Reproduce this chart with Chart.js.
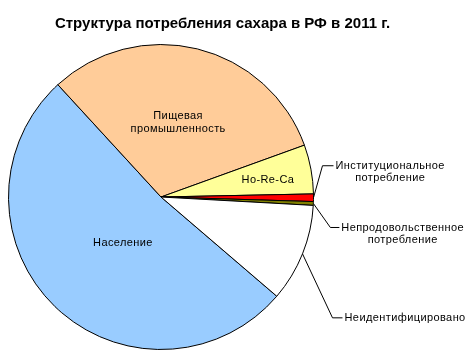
<!DOCTYPE html>
<html>
<head>
<meta charset="utf-8">
<script src="https://cdn.jsdelivr.net/npm/chart.js@4.4.1/dist/chart.umd.min.js"></script>
<style>
  html, body { margin: 0; padding: 0; background: #ffffff; }
  #wrap { width: 471px; height: 358px; }
</style>
</head>
<body>
<div id="wrap"><canvas id="c" width="471" height="358"></canvas></div>
<script>
// ---- data ----
const chartTitle = 'Структура потребления сахара в РФ в 2011 г.';
const categories = ['Население', 'Пищевая промышленность', 'Ho-Re-Ca', 'Институциональное потребление', 'Непродовольственное потребление', 'Неидентифицировано'];
const shares = [51.9, 31.3, 5.2, 0.8, 0.4, 10.4];

// ---- styles ----
const sliceColors = ['#99CCFF', '#FFCC99', '#FFFF99', '#FF0000', '#808000', '#FFFFFF'];
const FONT = '"Liberation Sans", Arial, sans-serif';

// label placement: inside (angle offset deg from slice middle, radius fraction) or outside leader (elbow offset, run)
const labelPlacement = [
  { inside: true, dAng: -4.3, rf: 0.39 },
  { inside: true, dAng: -0.8, rf: 0.50 },
  { inside: true, dAng: 1.5, rf: 0.71 },
  { inside: false, ex: 9, ey: -32, run: 11 },
  { inside: false, ex: 17, ey: 24, run: 9 },
  { inside: false, ex: 30, ey: 64, run: 10 }
];

const labelPlugin = {
  id: 'sliceLabels',
  afterDatasetsDraw(chart) {
    const ctx = chart.ctx;
    const meta = chart.getDatasetMeta(0);
    ctx.save();
    ctx.font = '11px ' + FONT;
    try { ctx.letterSpacing = '0.4px'; } catch (e) {}
    ctx.fillStyle = '#000000';
    ctx.strokeStyle = '#000000';
    ctx.lineWidth = 1;
    const lh = 12.7;
    meta.data.forEach((arc, i) => {
      const p = arc.getProps(['x', 'y', 'startAngle', 'endAngle', 'outerRadius'], true);
      const mid = (p.startAngle + p.endAngle) / 2;
      const lines = categories[i].split(' ');
      const pl = labelPlacement[i];
      if (pl.inside) {
        const a = mid + pl.dAng * Math.PI / 180;
        const r = p.outerRadius * pl.rf;
        const cx = p.x + Math.cos(a) * r;
        const cy = p.y + Math.sin(a) * r;
        ctx.textAlign = 'center';
        ctx.textBaseline = 'middle';
        const y0 = cy - (lines.length - 1) * lh / 2;
        lines.forEach((t, k) => ctx.fillText(t, cx, y0 + k * lh));
      } else {
        const sx = p.x + Math.cos(mid) * p.outerRadius;
        const sy = p.y + Math.sin(mid) * p.outerRadius;
        const exx = sx + pl.ex, eyy = sy + pl.ey;
        const endx = exx + pl.run;
        ctx.beginPath();
        ctx.moveTo(sx, sy);
        ctx.lineTo(exx, eyy);
        ctx.lineTo(endx, eyy);
        ctx.stroke();
        const w0 = ctx.measureText(lines[0]).width;
        const tx = endx + 2;
        ctx.textBaseline = 'middle';
        ctx.textAlign = 'left';
        ctx.fillText(lines[0], tx, eyy);
        ctx.textAlign = 'center';
        for (let k = 1; k < lines.length; k++) {
          ctx.fillText(lines[k], tx + w0 / 2, eyy + k * lh);
        }
      }
    });
    // title
    try { ctx.letterSpacing = '0px'; } catch (e) {}
    ctx.font = 'bold 15px ' + FONT;
    ctx.textAlign = 'center';
    ctx.textBaseline = 'alphabetic';
    ctx.fillText(chartTitle, 222.5, 28);
    ctx.restore();
  }
};

new Chart(document.getElementById('c'), {
  type: 'pie',
  data: {
    labels: categories,
    datasets: [{
      data: shares,
      backgroundColor: sliceColors,
      borderColor: '#000000',
      borderWidth: 1,
      borderAlign: 'center'
    }]
  },
  options: {
    responsive: false,
    animation: false,
    rotation: 130.6,
    layout: { padding: { left: 8, top: 44, right: 157, bottom: 8 } },
    plugins: {
      legend: { display: false },
      title: { display: false },
      tooltip: { enabled: false }
    }
  },
  plugins: [labelPlugin]
});
</script>
</body>
</html>
